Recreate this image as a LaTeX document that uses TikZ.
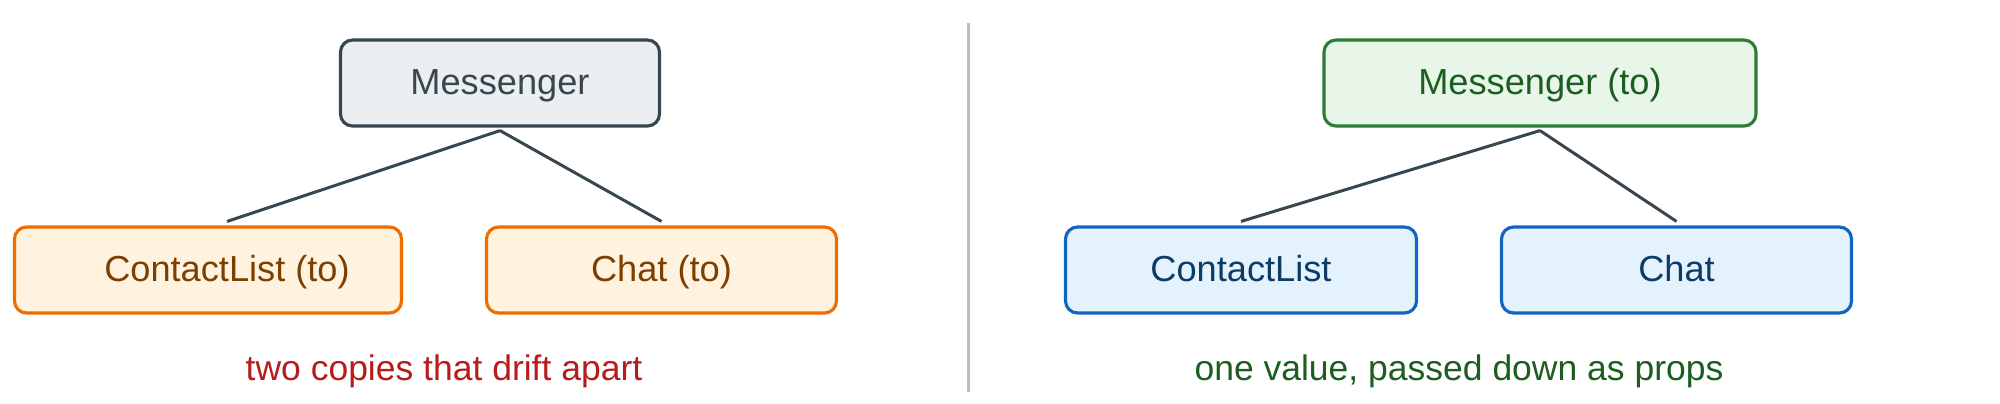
\documentclass[tikz,border=0pt]{standalone}
\usepackage{fontspec}
\setmainfont{Liberation Sans}
\usepackage{tikz}
\definecolor{slateline}{HTML}{37474F}
\definecolor{slatefill}{HTML}{ECEFF1}
\definecolor{copyline}{HTML}{EF6C00}
\definecolor{copyfill}{HTML}{FFF3E0}
\definecolor{copytext}{HTML}{7C3F00}
\definecolor{ownline}{HTML}{2E7D32}
\definecolor{ownfill}{HTML}{E8F5E9}
\definecolor{owntext}{HTML}{1B5E20}
\definecolor{propline}{HTML}{1565C0}
\definecolor{propfill}{HTML}{E3F2FD}
\definecolor{proptext}{HTML}{0D3B66}
\definecolor{badtext}{HTML}{B71C1C}
\definecolor{divline}{HTML}{B0BEC5}
\tikzset{%
    comp/.style={shape=rectangle,rounded corners=0.12cm,line width=0.9pt,inner sep=0pt,
        minimum height=0.86cm,text height=8.7pt,text depth=2.1pt,font=\fontsize{10.3}{12}\selectfont},
    plain/.style={comp,draw=slateline,fill=slatefill,text=slateline},
    copy/.style={comp,draw=copyline,fill=copyfill,text=copytext},
    owner/.style={comp,draw=ownline,fill=ownfill,text=owntext},
    prop/.style={comp,draw=propline,fill=propfill,text=proptext},
    edge/.style={draw=slateline,line width=0.85pt},
    caption/.style={font=\fontsize{10.1}{12}\selectfont},
}

\begin{document}
\begin{tikzpicture}
            \useasboundingbox (0,0) rectangle (20,-4.03);

            %levo: dve kopiji
            \node[plain, minimum width=3.19cm] (msgL) at (5.00,-0.83) {Messenger};
            \node[copy, minimum width=3.87cm] (clL) at (2.08,-2.70) {\hspace*{0.38cm}ContactList (to)};
            \node[copy, minimum width=3.50cm] (chatL) at (6.615,-2.70) {Chat (to)};
            \draw[edge] ([yshift=-0.03cm]msgL.south) -- ([xshift=0.19cm,yshift=0.04cm]clL.north);
            \draw[edge] ([yshift=-0.03cm]msgL.south) -- ([yshift=0.04cm]chatL.north);
            \node[caption, text=badtext] (capL) at (4.44,-3.715) {two copies that drift apart};

            %ločnica
            \draw[divline, line width=0.85pt] (9.68,-0.23) -- (9.68,-3.92);

            %desno: ena vrednost
            \node[owner, minimum width=4.32cm] (msgR) at (15.40,-0.83) {Messenger (to)};
            \node[prop, minimum width=3.51cm] (clR) at (12.41,-2.70) {ContactList};
            \node[prop, minimum width=3.50cm] (chatR) at (16.765,-2.70) {Chat};
            \draw[edge] ([yshift=-0.03cm]msgR.south) -- ([yshift=0.04cm]clR.north);
            \draw[edge] ([yshift=-0.03cm]msgR.south) -- ([yshift=0.04cm]chatR.north);
            \node[caption, text=owntext] (capR) at (14.59,-3.715) {one value, passed down as props};
\end{tikzpicture}
\end{document}
